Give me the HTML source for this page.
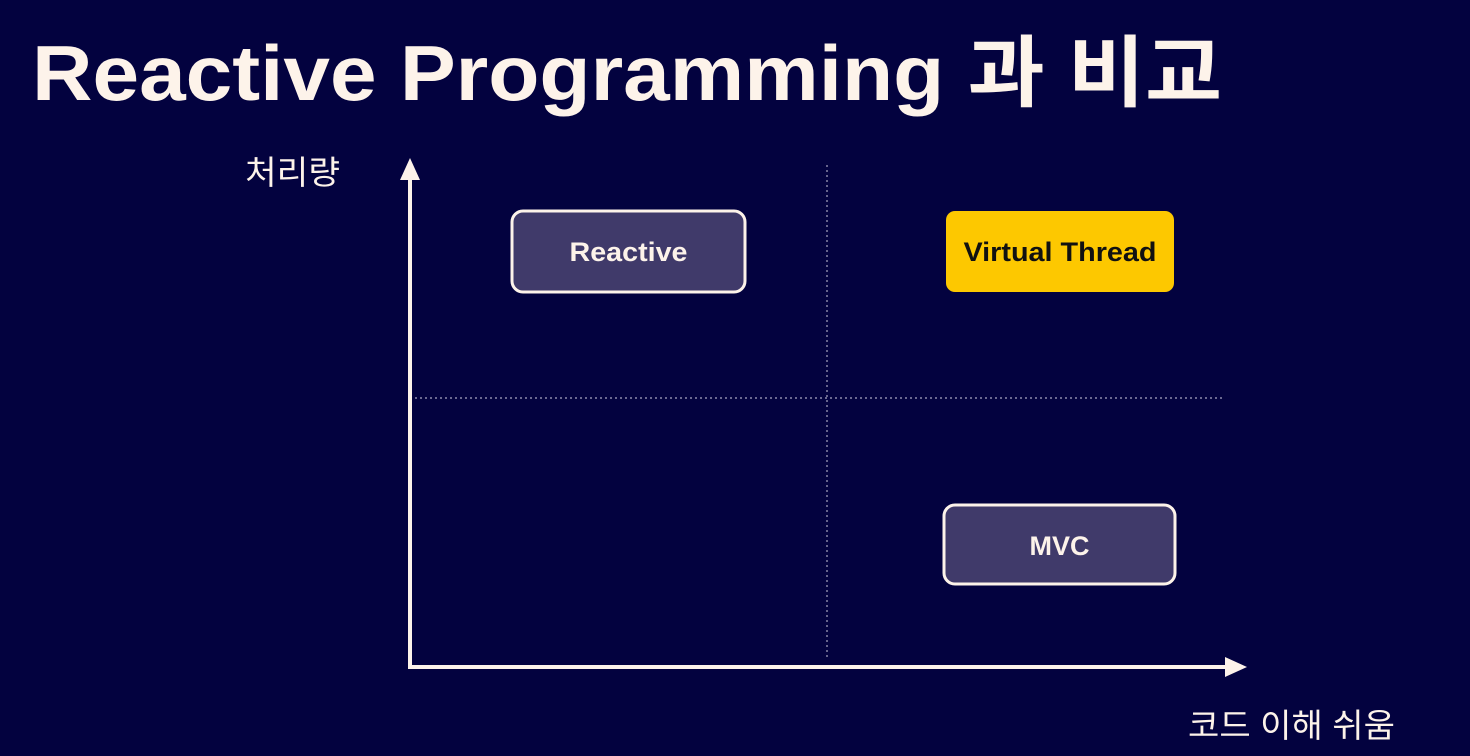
<!DOCTYPE html>
<html><head><meta charset="utf-8"><style>
html,body{margin:0;padding:0;background:#03023f;}
svg{display:block}
</style></head><body>
<svg width="1470" height="756" viewBox="0 0 1470 756" xmlns="http://www.w3.org/2000/svg">
<rect width="1470" height="756" fill="#03023f"/>
<text x="32" y="100" font-family="Liberation Sans, 'Noto Sans CJK KR', sans-serif" font-weight="bold" font-size="78" fill="#fdf3ea" textLength="1190" lengthAdjust="spacingAndGlyphs">Reactive Programming 과 비교</text>
<text x="245" y="184" font-family="Liberation Sans, 'Noto Sans CJK KR', sans-serif" font-size="33" fill="#fdf3ea" textLength="95" lengthAdjust="spacingAndGlyphs">처리량</text>
<text x="1188" y="737" font-family="Liberation Sans, 'Noto Sans CJK KR', sans-serif" font-size="33" fill="#fdf3ea" textLength="207" lengthAdjust="spacingAndGlyphs">코드 이해 쉬움</text>
<line x1="827" y1="165" x2="827" y2="660" stroke="#a9a6c0" stroke-width="1.2" stroke-dasharray="2 3"/>
<line x1="415" y1="398" x2="1225" y2="398" stroke="#a9a6c0" stroke-width="1.2" stroke-dasharray="2 3"/>
<line x1="410" y1="175" x2="410" y2="668" stroke="#fdf3ea" stroke-width="4"/>
<polygon points="410,158 400,180 420,180" fill="#fdf3ea"/>
<line x1="408" y1="667" x2="1228" y2="667" stroke="#fdf3ea" stroke-width="4"/>
<polygon points="1247,667 1225,657 1225,677" fill="#fdf3ea"/>
<rect x="512" y="211" width="233" height="81" rx="11" fill="#403a6a" stroke="#fdf3ea" stroke-width="3"/>
<text x="628.5" y="261" text-anchor="middle" font-family="Liberation Sans, sans-serif" font-weight="bold" font-size="27" fill="#fdf3ea" textLength="118" lengthAdjust="spacingAndGlyphs">Reactive</text>
<rect x="946" y="211" width="228" height="81" rx="9" fill="#fdc800"/>
<text x="1060" y="261" text-anchor="middle" font-family="Liberation Sans, sans-serif" font-weight="bold" font-size="27" fill="#111" textLength="193" lengthAdjust="spacingAndGlyphs">Virtual Thread</text>
<rect x="944" y="505" width="231" height="79" rx="11" fill="#403a6a" stroke="#fdf3ea" stroke-width="3"/>
<text x="1059.5" y="555" text-anchor="middle" font-family="Liberation Sans, sans-serif" font-weight="bold" font-size="27" fill="#fdf3ea">MVC</text>
</svg>
</body></html>
